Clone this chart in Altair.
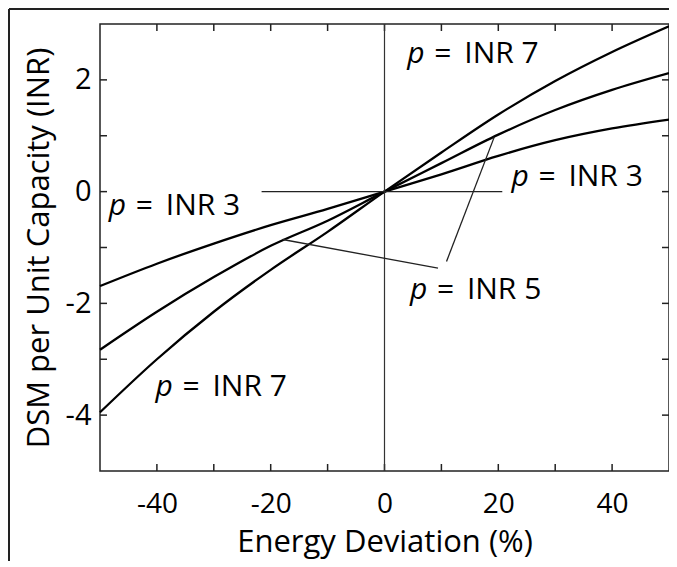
import altair as alt
import pandas as pd

# ---- data ----
x_vals = [-50, -40, -30, -20, -10, 0, 10, 20, 30, 40, 50]
inr3 = [-1.69, -1.29, -0.93, -0.60, -0.31, 0, 0.31, 0.64, 0.92, 1.13, 1.29]
inr5 = [-2.83, -2.15, -1.53, -0.97, -0.52, 0, 0.51, 1.02, 1.46, 1.82, 2.12]
inr7 = [-3.95, -3.00, -2.15, -1.40, -0.72, 0, 0.70, 1.38, 1.98, 2.50, 2.96]
series_names = ["INR 3", "INR 5", "INR 7"]

x_ticks = [-40, -30, -20, -10, 0, 10, 20, 30, 40]
x_labels = [-40, -20, 0, 20, 40]
y_ticks = [-4, -3, -2, -1, 0, 1, 2]
y_labels = [-4, -2, 0, 2]

# annotation labels: text, left x (data), centre y (data)
label_text = ["INR 7", "INR 3", "INR 3", "INR 5", "INR 7"]
label_x = [4.0, 22.3, -48.45, 4.46, -40.25]
label_y = [2.46, 0.27, -0.25, -1.76, -3.49]

# leader lines (data coordinates)
lead_x = [-21.6, -17.9, 19.3]
lead_y = [0.0, -0.857, 0.98]
lead_x2 = [20.7, 9.4, 10.9]
lead_y2 = [0.0, -1.37, -1.25]

X_MIN, X_MAX, Y_MIN, Y_MAX = -50, 50, -5, 3
W, H = 569, 447
TICK_PX = 7

FONT = "Open Sans"

rows = []
for name, vals in zip(series_names, [inr3, inr5, inr7]):
    for xv, yv in zip(x_vals, vals):
        rows.append({"x": xv, "y": yv, "series": name})
curves_df = pd.DataFrame(rows)

labels_df = pd.DataFrame({"text": label_text, "x": label_x, "y": label_y})
leads_df = pd.DataFrame({"x": lead_x, "y": lead_y, "x2": lead_x2, "y2": lead_y2})
zero_df = pd.DataFrame({"x": [0], "y": [Y_MIN], "y2": [Y_MAX]})
one_df = pd.DataFrame({"a": [0]})

# inward tick marks on all four sides (length in data units from TICK_PX)
ty = TICK_PX * (Y_MAX - Y_MIN) / H
tx = TICK_PX * (X_MAX - X_MIN) / W
tick_rows = []
for t in x_ticks:
    tick_rows.append({"x": t, "y": Y_MIN, "x2": t, "y2": Y_MIN + ty})
    tick_rows.append({"x": t, "y": Y_MAX, "x2": t, "y2": Y_MAX - ty})
for t in y_ticks:
    tick_rows.append({"x": X_MIN, "y": t, "x2": X_MIN + tx, "y2": t})
    tick_rows.append({"x": X_MAX, "y": t, "x2": X_MAX - tx, "y2": t})
ticks_df = pd.DataFrame(tick_rows)

xscale = alt.Scale(domain=[X_MIN, X_MAX], nice=False, zero=False)
yscale = alt.Scale(domain=[Y_MIN, Y_MAX], nice=False, zero=False)

axis_common = dict(
    ticks=False, tickSize=0, domain=False, grid=False,
    labelFont=FONT, labelColor="black",
    titleFont=FONT, titleColor="black", titleFontWeight="normal",
    labelOverlap=False, labelFlush=False,
)

x_bottom = alt.Axis(
    orient="bottom", values=x_labels,
    labelExpr="toString(datum.value)", labelFontSize=28,
    labelPadding=19, title="Energy Deviation (%)", titleFontSize=31,
    titlePadding=9, **axis_common,
)
y_left = alt.Axis(
    orient="left", values=y_labels,
    labelExpr="toString(datum.value)", labelFontSize=29,
    labelPadding=9, title="DSM per Unit Capacity (INR)", titleFontSize=31,
    titlePadding=10, **axis_common,
)


def X():
    return alt.X("x:Q", scale=xscale, axis=x_bottom)


def Y():
    return alt.Y("y:Q", scale=yscale, axis=y_left)


curves = alt.Chart(curves_df).mark_line(
    color="black", strokeWidth=2.3, interpolate="monotone"
).encode(x=X(), y=Y(), detail="series:N")

ticks = alt.Chart(ticks_df).mark_rule(color="#222", strokeWidth=1.5).encode(
    x=X(), y=Y(), x2="x2:Q", y2="y2:Q"
)

zero_line = alt.Chart(zero_df).mark_rule(color="#333", strokeWidth=1.2).encode(
    x=X(), y=Y(), y2="y2:Q"
)

leaders = alt.Chart(leads_df).mark_rule(color="#222", strokeWidth=1.3).encode(
    x=X(), y=Y(), x2="x2:Q", y2="y2:Q"
)

LFS = 30
p_text = alt.Chart(labels_df).mark_text(
    text="p", font=FONT, fontSize=LFS, fontStyle="italic", align="left",
    baseline="middle", color="black",
).encode(x=X(), y=Y())
eq_text = alt.Chart(labels_df).mark_text(
    text="=", font=FONT, fontSize=LFS, align="left", baseline="middle",
    color="black", dx=27,
).encode(x=X(), y=Y())
inr_text = alt.Chart(labels_df).mark_text(
    font=FONT, fontSize=LFS, align="left", baseline="middle",
    color="black", dx=57,
).encode(x=X(), y=Y(), text="text:N")

frame_left = alt.Chart(one_df).mark_rule(color="#222", strokeWidth=2).encode(
    x=alt.value(-91), y=alt.value(-15), y2=alt.value(600)
)
frame_top = alt.Chart(one_df).mark_rule(color="#222", strokeWidth=2).encode(
    x=alt.value(-91), x2=alt.value(600), y=alt.value(-15)
)

chart = alt.layer(
    curves, ticks, zero_line, leaders, p_text, eq_text, inr_text, frame_left, frame_top
).properties(
    width=W, height=H,
    autosize=alt.AutoSizeParams(type="none"),
    padding={"left": 92, "top": 16, "right": 0, "bottom": 90},
    background="white",
).configure_view(
    stroke="#222", strokeWidth=1.5
)

chart.save("out.html", embed_options={"renderer": "svg", "actions": False})
